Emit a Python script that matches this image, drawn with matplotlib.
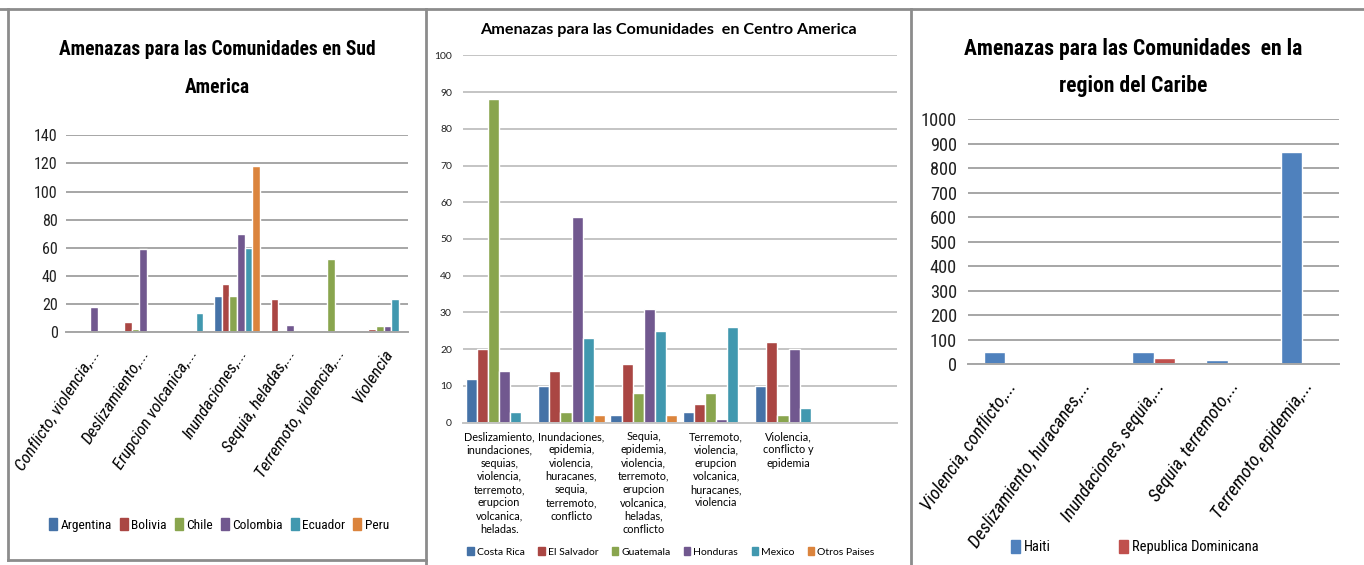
import matplotlib
matplotlib.use('Agg')
import matplotlib.pyplot as plt
from matplotlib import font_manager
from matplotlib.lines import Line2D
import numpy as np

W, H = 1364, 565

# --- South America ---
sa_categories = ['Conflicto, violencia,...', 'Deslizamiento,...', 'Erupcion volcanica,...',
                 'Inundaciones,...', 'Sequia, heladas,...', 'Terremoto, violencia,...', 'Violencia']
sa_countries = ['Argentina', 'Bolivia', 'Chile', 'Colombia', 'Ecuador', 'Peru']
sa_argentina = [0, 0, 0, 26, 0, 0, 0]
sa_bolivia = [0, 7, 0, 34, 24, 0, 2]
sa_chile = [0, 2, 1, 26, 0, 52, 4.5]
sa_colombia = [18, 59, 1, 70, 5, 0, 4.5]
sa_ecuador = [0, 0, 14, 60, 1, 0, 24]
sa_peru = [0, 0, 0, 118, 1, 0, 0]
sa_ticks = [0, 20, 40, 60, 80, 100, 120, 140]

# --- Central America ---
ca_categories = ['Deslizamiento,\ninundaciones,\nsequias,\nviolencia,\nterremoto,\nerupcion\nvolcanica,\nheladas.',
                 'Inundaciones,\nepidemia,\nviolencia,\nhuracanes,\nsequia,\nterremoto,\nconflicto',
                 'Sequia,\nepidemia,\nviolencia,\nterremoto,\nerupcion\nvolcanica,\nheladas,\nconflicto',
                 'Terremoto,\nviolencia,\nerupcion\nvolcanica,\nhuracanes,\nviolencia',
                 'Violencia,\nconflicto y\nepidemia',
                 '']
ca_countries = ['Costa Rica', 'El Salvador', 'Guatemala', 'Honduras', 'Mexico', 'Otros Paises']
ca_costa_rica = [12, 10, 2, 3, 10, 0]
ca_el_salvador = [20, 14, 16, 5, 22, 0]
ca_guatemala = [88, 3, 8, 8, 2, 0]
ca_honduras = [14, 56, 31, 1, 20, 0]
ca_mexico = [3, 23, 25, 26, 4, 0]
ca_otros = [0, 2, 2, 0, 0, 0]
ca_ticks = [0, 10, 20, 30, 40, 50, 60, 70, 80, 90, 100]

# --- Caribe ---
cb_categories = ['Violencia, conflicto,...', 'Deslizamiento, huracanes,...', 'Inundaciones, sequia,...',
                 'Sequia, terremoto,...', 'Terremoto, epidemia,...']
cb_countries = ['Haiti', 'Republica Dominicana']
cb_haiti = [52, 11, 52, 16, 865]
cb_rep_dom = [0, 11, 27, 0, 0]
cb_ticks = [0, 100, 200, 300, 400, 500, 600, 700, 800, 900, 1000]

dark_colors = ['#4572A7', '#AA4643', '#89A54E', '#71588F', '#4198AF', '#DB843D']
light_colors = ['#4F81BD', '#C0504D']
grid_color = '#A6A6A6'

# pick a narrow face if one is installed, else Lato (close to Calibri)
names = {f.name for f in font_manager.fontManager.ttflist}
narrow, k = 'Lato', 1.0
for n in ['Liberation Sans Narrow', 'Roboto Condensed', 'Open Sans Condensed', 'DejaVu Sans Condensed']:
    if n in names:
        narrow, k = n, 1.1
        break
if narrow == 'Lato' and 'Lato' not in names:
    narrow, k = 'DejaVu Sans', 0.85
small = 'Lato' if 'Lato' in names else 'DejaVu Sans'

fig = plt.figure(figsize=(W / 100, H / 100), dpi=100)


def add_axes_px(x0, y0, x1, y1):
    return fig.add_axes([x0 / W, 1 - y1 / H, (x1 - x0) / W, (y1 - y0) / H])


def style_axes(ax, ticks, font, size, gc=grid_color):
    ax.set_ylim(ticks[0], ticks[-1])
    ax.set_yticks(ticks)
    ax.yaxis.grid(True, color=gc, linewidth=1.4)
    ax.set_axisbelow(True)
    for s in ['top', 'right', 'left']:
        ax.spines[s].set_visible(False)
    ax.spines['bottom'].set_color(gc)
    ax.spines['bottom'].set_linewidth(1.4)
    ax.tick_params(axis='y', length=0, pad=6)
    ax.tick_params(axis='x', length=0)
    for lab in ax.get_yticklabels():
        lab.set_fontfamily(font)
        lab.set_fontsize(size)
        lab.set_color('#222222')


def grouped_bars(ax, series, colors, step, edge=1.0):
    x = np.arange(len(series[0]))
    n = len(series)
    for i, vals in enumerate(series):
        ax.bar(x + (i - (n - 1) / 2) * step, vals, width=step, color=colors[i],
               edgecolor='white', linewidth=edge)
    ax.set_xlim(-0.5, len(x) - 0.5)
    ax.set_xticks(x)


# South America panel
ax1 = add_axes_px(66, 135.3, 408, 332.3)
grouped_bars(ax1, [sa_argentina, sa_bolivia, sa_chile, sa_colombia, sa_ecuador, sa_peru],
             dark_colors, 0.157)
style_axes(ax1, sa_ticks, narrow, 10.5 * k)
ax1.set_xticklabels(sa_categories, rotation=57, ha='right', va='top', rotation_mode='anchor',
                    fontfamily=narrow, fontsize=11.2 * k, style='italic')
ax1.tick_params(axis='x', pad=10)
fig.text(217 / W, 1 - 68.5 / H, 'Amenazas para las Comunidades en Sud\nAmerica', ha='center',
         va='center', fontfamily=narrow, fontsize=12.8 * k, fontweight='bold', linespacing=2.25)
h1 = [plt.Rectangle((0, 0), 1, 1, color=c) for c in dark_colors]
ax1.legend(h1, sa_countries, loc='center', bbox_to_anchor=(219 / W, 1 - 525 / H),
           bbox_transform=fig.transFigure, ncol=6, frameon=False, handlelength=0.6,
           handleheight=0.9, handletextpad=0.25, columnspacing=0.6,
           prop={'family': narrow, 'size': 8.8 * k})

# Central America panel
ax2 = add_axes_px(463, 55.3, 897, 422.7)
grouped_bars(ax2, [ca_costa_rica, ca_el_salvador, ca_guatemala, ca_honduras, ca_mexico, ca_otros],
             dark_colors, 0.154)
style_axes(ax2, ca_ticks, small, 7.5, gc='#C4C4C4')
ax2.tick_params(axis='y', pad=8)
ax2.set_xticklabels(ca_categories, fontfamily=small, fontsize=7.8, linespacing=1.25)
ax2.tick_params(axis='x', pad=6)
fig.text(668 / W, 1 - 30 / H, 'Amenazas para las Comunidades  en Centro America', ha='center',
         va='center', fontfamily=small, fontsize=11.6, fontweight='bold')
ax2.legend(h1, ca_countries, loc='center', bbox_to_anchor=(671 / W, 1 - 552 / H),
           bbox_transform=fig.transFigure, ncol=6, frameon=False, handlelength=0.6,
           handleheight=0.7, handletextpad=0.3, columnspacing=1.3,
           prop={'family': small, 'size': 7.5})

# Caribe panel
ax3 = add_axes_px(968, 119.3, 1339, 364.3)
grouped_bars(ax3, [cb_haiti, cb_rep_dom], light_colors, 0.288)
style_axes(ax3, cb_ticks, narrow, 12 * k)
ax3.tick_params(axis='y', pad=8)
ax3.set_xticklabels(cb_categories, rotation=55, ha='right', va='top', rotation_mode='anchor',
                    fontfamily=narrow, fontsize=12 * k, style='italic')
ax3.tick_params(axis='x', pad=10)
fig.text(1133 / W, 1 - 67.5 / H, 'Amenazas para las Comunidades  en la\nregion del Caribe',
         ha='center', va='center', fontfamily=narrow, fontsize=14.2 * k, fontweight='bold',
         linespacing=1.85)
h3 = [plt.Rectangle((0, 0), 1, 1, color=c) for c in light_colors]
ax3.legend(h3, cb_countries, loc='center', bbox_to_anchor=(1135 / W, 1 - 547 / H),
           bbox_transform=fig.transFigure, ncol=2, frameon=False, handlelength=0.6,
           handleheight=1.0, handletextpad=0.3, columnspacing=4.7,
           prop={'family': narrow, 'size': 9.5 * k})

# panel borders
border = dict(color='#8C8C8C', linewidth=2, transform=fig.transFigure)


def fline(xs, ys):
    fig.add_artist(Line2D([x / W for x in xs], [1 - y / H for y in ys], **border))


fline([0, W], [9, 9])
fline([8, 8], [9, 560])
fline([8, 426], [560, 560])
fline([426, 426], [9, 565])
fline([911, 911], [9, 565])

fig.savefig('out.png', dpi=100, facecolor='white')
